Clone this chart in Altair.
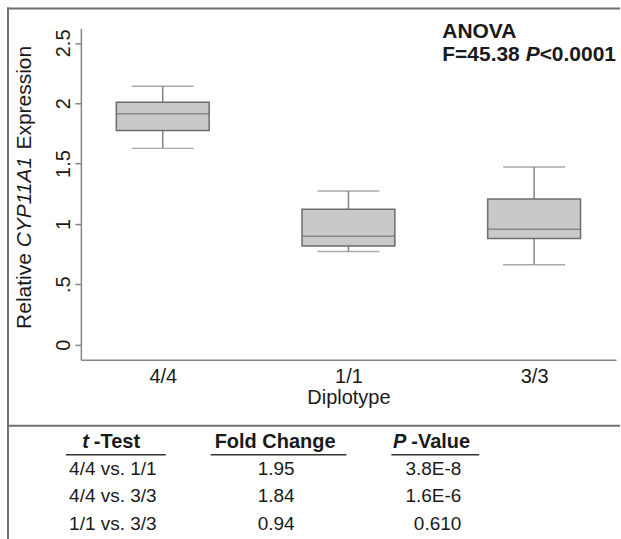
import altair as alt
import pandas as pd

# ---- data ----
cats = ["4/4", "1/1", "3/3"]
whisker_low = [1.626, 0.771, 0.661]
q1 = [1.774, 0.818, 0.879]
median = [1.912, 0.898, 0.956]
q3 = [2.008, 1.121, 1.207]
whisker_high = [2.140, 1.273, 1.471]

y_ticks = [0, 0.5, 1, 1.5, 2, 2.5]
y_tick_labels = ["0", ".5", "1", "1.5", "2", "2.5"]

comparisons = ["4/4 vs. 1/1", "4/4 vs. 3/3", "1/1 vs. 3/3"]
fold_changes = ["1.95", "1.84", "0.94"]
p_values = ["3.8E-8", "1.6E-6", "0.610"]

FONT = "Liberation Sans"
TXT = "#1a1a1a"
AX = "#858585"
FRAME = "#707070"

box_df = pd.DataFrame({"cat": cats, "lo": whisker_low, "q1": q1, "med": median,
                       "q3": q3, "hi": whisker_high})
one = pd.DataFrame({"k": [0]})

label_expr = " : ".join(
    [f"datum.value == {v} ? '{l}'" for v, l in zip(y_ticks, y_tick_labels)]) + " : ''"

x_enc = alt.X("cat:N", sort=cats,
              scale=alt.Scale(type="point", padding=0.441),
              axis=alt.Axis(title="Diplotype", labelAngle=0, ticks=False,
                            labelFontSize=20, labelFont=FONT, labelColor=TXT,
                            labelPadding=7, titleFontSize=20, titleFont=FONT,
                            titleFontWeight="normal", titleColor=TXT, titlePadding=1,
                            domainColor=AX, domainWidth=1.5))
y_scale = alt.Scale(domain=[-0.126, 2.62], nice=False, zero=False)
y_enc = alt.Y("q1:Q", scale=y_scale,
              axis=alt.Axis(title=None, values=y_ticks, labelExpr=label_expr,
                            labelAngle=270, labelAlign="center", labelBaseline="alphabetic",
                            labelFontSize=20, labelFont=FONT, labelColor=TXT,
                            labelPadding=5, tickSize=6, tickColor=AX, tickWidth=1.5,
                            domainColor=AX, domainWidth=1.5, grid=False))

base = alt.Chart(box_df)
whisk_up = base.mark_rule(color=AX, strokeWidth=1.5).encode(
    x=x_enc, y=alt.Y("q3:Q", scale=y_scale), y2="hi:Q")
whisk_dn = base.mark_rule(color=AX, strokeWidth=1.5).encode(
    x=x_enc, y=alt.Y("lo:Q", scale=y_scale), y2="q1:Q")
cap_hi = base.mark_tick(size=62, thickness=1.5, color=AX).encode(
    x=x_enc, y=alt.Y("hi:Q", scale=y_scale))
cap_lo = base.mark_tick(size=62, thickness=1.5, color=AX).encode(
    x=x_enc, y=alt.Y("lo:Q", scale=y_scale))
box = base.mark_bar(size=93, fill="#c9c9c9", stroke="#6c6c6c", strokeWidth=1.5).encode(
    x=x_enc, y=y_enc, y2="q3:Q")
med = base.mark_tick(size=93, thickness=1.5, color="#6c6c6c").encode(
    x=x_enc, y=alt.Y("med:Q", scale=y_scale))

def txt(text, x, y, size=21, weight="normal", style="normal", angle=0, align="left",
        baseline="alphabetic"):
    return alt.Chart(one).mark_text(
        text=text, font=FONT, fontSize=size, fontWeight=weight, fontStyle=style,
        angle=angle, align=align, baseline=baseline, color=TXT
    ).encode(x=alt.value(x), y=alt.value(y))

# y-axis title with italic gene name
ytitle = [
    txt("Relative", -49.5, 301, angle=270),
    txt("CYP11A1", -49.5, 219.3, style="italic", angle=270),
    txt("Expression", -49.5, 121.3, angle=270),
]
anova = [
    txt("ANOVA", 362, 10, weight="bold"),
    txt("F=45.38", 362, 33, weight="bold"),
    txt("P", 445.5, 33, weight="bold", style="italic"),
    txt("<0.0001", 459.5, 33, weight="bold"),
]

def rule(x, x2, y, y2=None, color=FRAME, w=2):
    enc = dict(x=alt.value(x), y=alt.value(y))
    if x2 is not None:
        enc["x2"] = alt.value(x2)
    if y2 is not None:
        enc["y2"] = alt.value(y2)
    return alt.Chart(one).mark_rule(color=color, strokeWidth=w).encode(**enc)

frame = [
    rule(-74, 540, -20),           # top border
    rule(-73, None, -21, 512),     # left border
    rule(-74, 540, 398),           # separator above table
]

top = alt.layer(whisk_up, whisk_dn, cap_hi, cap_lo, box, med,
                *ytitle, *anova, *frame).properties(width=536, height=332)

# ---- table ----
tx = alt.Scale(domain=[-0.1994, 3.140], nice=False, zero=False)
ty = alt.Scale(domain=[-0.586, 3.585], nice=False, zero=False, reverse=True)

rows_df = pd.DataFrame({
    "row": [1, 2, 3],
    "comp": comparisons,
    "fc": fold_changes,
    "p": p_values,
})

def col_text(field, c, align, dx=0):
    return alt.Chart(rows_df).transform_calculate(c=str(c)).mark_text(
        font=FONT, fontSize=19, color=TXT, align=align, baseline="middle", dx=dx
    ).encode(x=alt.X("c:Q", scale=tx, axis=None),
             y=alt.Y("row:Q", scale=ty, axis=None),
             text=f"{field}:N")

hdr_df = pd.DataFrame({"row": [0]})

def hdr(text, c, align, dx=0, style="normal"):
    return alt.Chart(hdr_df).transform_calculate(c=str(c)).mark_text(
        text=text, font=FONT, fontSize=20, fontWeight="bold", fontStyle=style,
        color=TXT, align=align, baseline="middle", dx=dx
    ).encode(x=alt.X("c:Q", scale=tx, axis=None),
             y=alt.Y("row:Q", scale=ty, axis=None))

headers = [
    hdr("t", 0, "right", dx=-24, style="italic"),
    hdr("-Test", 0, "left", dx=-19),
    hdr("Fold Change", 1, "center", dx=2),
    hdr("P", 2, "right", dx=-27, style="italic"),
    hdr("-Value", 2, "left", dx=-22),
]
underlines = [
    rule(-15, 85, 29, color="#333333", w=1.5),
    rule(130, 266, 29, color="#333333", w=1.5),
    rule(311, 399, 29, color="#333333", w=1.5),
]
cells = [
    col_text("comp", 0, "center"),
    col_text("fc", 1, "center", dx=3),
    col_text("p", 2, "right", dx=28),
]

bottom = alt.layer(*headers, *underlines, *cells).properties(width=536, height=114)

chart = alt.vconcat(top, bottom, spacing=66, bounds="flush").configure_view(
    strokeWidth=0
).properties(
    padding={"left": 6, "top": 6, "right": 0, "bottom": 0},
    background="white",
)

chart.save("out.html", embed_options={"renderer": "svg", "actions": False})
